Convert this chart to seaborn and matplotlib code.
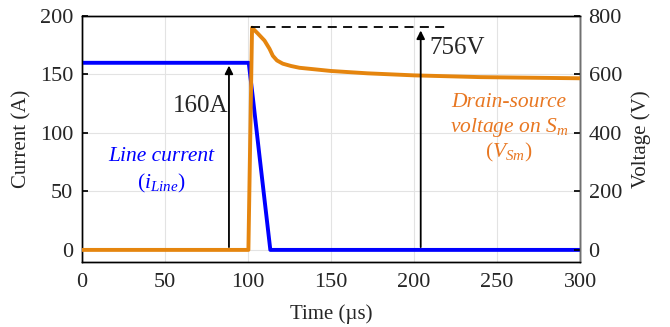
import numpy as np
import pandas as pd
import matplotlib
matplotlib.use("Agg")
import matplotlib.pyplot as plt
import seaborn as sns

# Data
t_cur = [0, 100.5, 103, 107, 110, 113.5, 300]
i_line = [160, 160, 130, 80, 43, 0, 0]

t_volt = [0, 100.3, 102.5, 106, 110, 113, 115, 117.5, 121, 126, 131, 150, 172, 200, 240, 270, 300]
v_sm = [0, 0, 760, 740, 716, 688, 664, 648, 637, 629, 623, 612, 604, 597, 591, 589, 587]

peak_v = 756
current_level = 160
arrow_t_cur = 88.6
arrow_t_volt = 204

sns.set_theme(style="whitegrid")
plt.rcParams['font.family'] = ['Liberation Serif', 'DejaVu Serif']
plt.rcParams['mathtext.fontset'] = 'custom'
plt.rcParams['mathtext.it'] = 'Liberation Serif:italic'
plt.rcParams['mathtext.rm'] = 'Liberation Serif'

fig, ax = plt.subplots(figsize=(6.7, 3.27), dpi=100)
fig.subplots_adjust(left=0.122, right=0.866, top=0.951, bottom=0.2)

blue = '#0000FF'
orange = '#E5850E'
text_orange = '#E87722'

df_c = pd.DataFrame({'t': t_cur, 'i': i_line})
sns.lineplot(data=df_c, x='t', y='i', ax=ax, color=blue, lw=2.8, zorder=3)
ax.set_xlim(0, 300)
ax.set_ylim(-10, 200)
ax.set_xticks([0, 50, 100, 150, 200, 250, 300])
ax.set_yticks([0, 50, 100, 150, 200])
ax.set_xlabel('Time (µs)', fontsize=15, labelpad=9)
ax.set_ylabel('Current (A)', fontsize=15, labelpad=6)

ax2 = ax.twinx()
df_v = pd.DataFrame({'t': t_volt, 'v': v_sm})
sns.lineplot(data=df_v, x='t', y='v', ax=ax2, color=orange, lw=2.8, zorder=4)
ax2.set_ylim(-40, 800)
ax2.set_yticks([0, 200, 400, 600, 800])
ax2.set_ylabel('Voltage (V)', fontsize=15, labelpad=7)
ax2.grid(False)

for a in (ax, ax2):
    a.tick_params(direction='in', labelsize=16, length=4, color='black', pad=6)
    for s in a.spines.values():
        s.set_color('black')
        s.set_linewidth(1.0)
ax.tick_params(axis='x', pad=8)
ax2.spines['right'].set_color('#707070')
ax.grid(True, color='#e3e3e3', lw=0.8)
ax.set_facecolor('white')

# Annotations
ax.annotate('', xy=(arrow_t_cur, current_level), xytext=(arrow_t_cur, 0),
            arrowprops=dict(arrowstyle='-|>', color='black', lw=1.3, mutation_scale=12), zorder=5)
ax.text(88, 123, '160A', fontsize=18, ha='right', va='center')

ax2.plot([102, 220], [peak_v + 8, peak_v + 8], ls=(0, (5, 3.5)), color='black', lw=1.3, zorder=5)
ax2.annotate('', xy=(arrow_t_volt, peak_v + 4), xytext=(arrow_t_volt, 0),
             arrowprops=dict(arrowstyle='-|>', color='black', lw=1.3, mutation_scale=12), zorder=5)
ax2.text(209, 689, '756V', fontsize=18, ha='left', va='center')

ax.text(48, 80, 'Line current', fontsize=15.5, color=blue, style='italic', ha='center', va='center')
ax.text(48, 57, r'$(i_{Line})$', fontsize=15.5, color=blue, ha='center', va='center')
ax2.text(257, 505, 'Drain-source', fontsize=15.5, color=text_orange, style='italic', ha='center', va='center')
ax2.text(257, 420, r'voltage on $S_m$', fontsize=15.5, color=text_orange, style='italic', ha='center', va='center')
ax2.text(257, 333, r'$(V_{Sm})$', fontsize=15.5, color=text_orange, ha='center', va='center')

fig.savefig('out.png', dpi=100)
